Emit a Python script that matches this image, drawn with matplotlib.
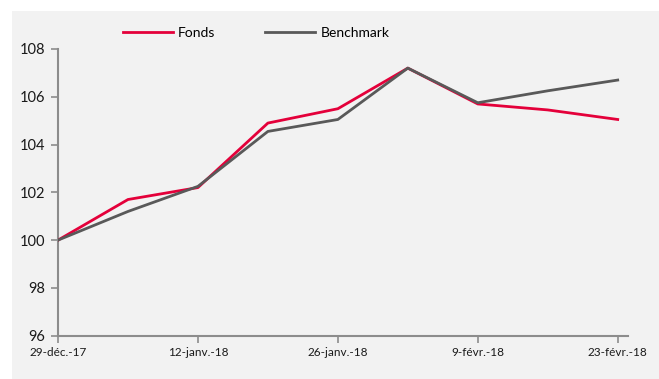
import pandas as pd
import matplotlib.pyplot as plt
from matplotlib.patches import Rectangle

plt.rcParams['font.family'] = ['Lato', 'DejaVu Sans']

# weekly values, base 100 on 29 Dec 2017
dates = ["2017-12-29", "2018-01-05", "2018-01-12", "2018-01-19", "2018-01-26",
         "2018-02-02", "2018-02-09", "2018-02-16", "2018-02-23"]
fonds = [100.0, 101.7, 102.2, 104.9, 105.5, 107.2, 105.7, 105.45, 105.05]
benchmark = [100.0, 101.2, 102.25, 104.55, 105.05, 107.2, 105.75, 106.25, 106.7]

tick_dates = ["2017-12-29", "2018-01-12", "2018-01-26", "2018-02-09", "2018-02-23"]
tick_labels = ["29-déc.-17", "12-janv.-18", "26-janv.-18", "9-févr.-18", "23-févr.-18"]

x = pd.to_datetime(dates)
W, H = 659, 379

fig = plt.figure(figsize=(W / 100, H / 100), dpi=100, facecolor="white")
# grey panel behind the chart
fig.patches.append(Rectangle((12 / W, 0), 1 - 12 / W, 1 - 11 / H,
                             transform=fig.transFigure, facecolor="#f2f2f2",
                             edgecolor="none", zorder=-10))

ax = fig.add_axes([58 / W, 1 - 335.7 / H, (627.7 - 58) / W, (335.7 - 49) / H])
ax.set_facecolor("none")

ax.plot(x, fonds, color="#e4003a", lw=2.0, label="Fonds", zorder=3)
ax.plot(x, benchmark, color="#595959", lw=2.0, label="Benchmark", zorder=4)

ax.set_ylim(96, 108)
ax.set_yticks(range(96, 109, 2))
ax.set_xlim(pd.Timestamp("2017-12-29"), pd.Timestamp("2018-02-24"))
ax.set_xticks(pd.to_datetime(tick_dates))
ax.set_xticklabels(tick_labels)

for side in ["top", "right"]:
    ax.spines[side].set_visible(False)
for side in ["left", "bottom"]:
    ax.spines[side].set_color("#8c8c8c")
    ax.spines[side].set_linewidth(1.5)

ax.tick_params(axis="y", labelsize=10.5, colors="#8c8c8c", labelcolor="#1a1a1a",
               length=5, width=1.2, pad=4)
ax.tick_params(axis="x", labelsize=8.5, colors="#8c8c8c", labelcolor="#1a1a1a",
               length=5, width=1.2, pad=3)

ax.legend(loc="center left", bbox_to_anchor=(110 / W, 1 - 33 / H),
          bbox_transform=fig.transFigure, ncol=2, frameon=False, fontsize=10,
          handlelength=3.6, handletextpad=0.4, columnspacing=3.6)

fig.savefig("out.png", dpi=100, facecolor="white")
